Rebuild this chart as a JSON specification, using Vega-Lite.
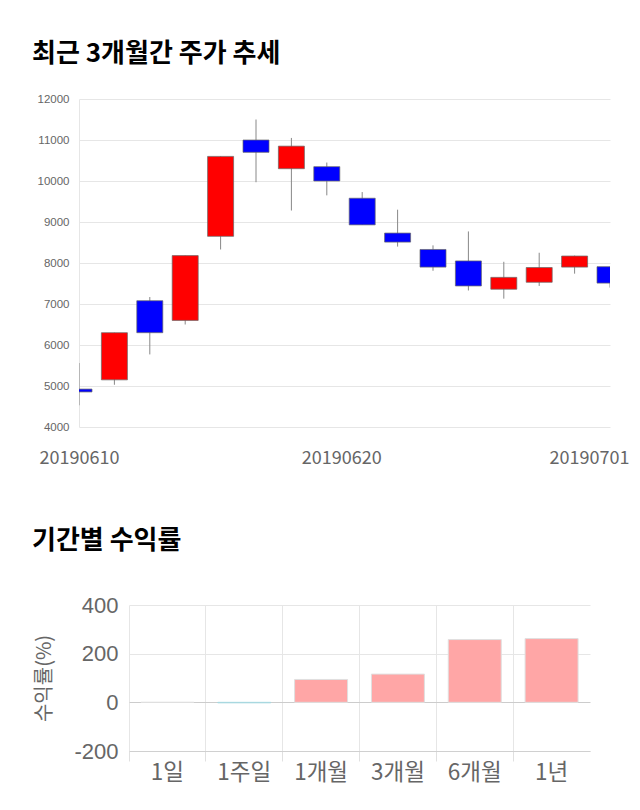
{
  "$schema": "https://vega.github.io/schema/vega-lite/v6.json",
  "background": "white",
  "padding": {"left": 32, "top": 41, "right": 0, "bottom": 0},
  "config": {"view": {"stroke": null}},
  "spacing": 61,
  "datasets": {
    "candles": [
      {"date": "20190610", "open": 4925, "high": 5560, "low": 4530, "close": 4855},
      {"date": "20190611", "open": 5150, "high": 6300, "low": 5030, "close": 6300},
      {"date": "20190612", "open": 7080, "high": 7170, "low": 5770, "close": 6300},
      {"date": "20190613", "open": 6600, "high": 8180, "low": 6500, "close": 8180},
      {"date": "20190614", "open": 8650, "high": 10600, "low": 8330, "close": 10600},
      {"date": "20190617", "open": 11000, "high": 11500, "low": 9970, "close": 10700},
      {"date": "20190618", "open": 10300, "high": 11050, "low": 9280, "close": 10850},
      {"date": "20190619", "open": 10350, "high": 10450, "low": 9650, "close": 10000},
      {"date": "20190620", "open": 9580, "high": 9730, "low": 8930, "close": 8930},
      {"date": "20190621", "open": 8730, "high": 9300, "low": 8400, "close": 8510},
      {"date": "20190624", "open": 8330, "high": 8430, "low": 7810, "close": 7900},
      {"date": "20190625", "open": 8050, "high": 8770, "low": 7330, "close": 7440},
      {"date": "20190626", "open": 7360, "high": 8030, "low": 7130, "close": 7650},
      {"date": "20190627", "open": 7530, "high": 8250, "low": 7440, "close": 7890},
      {"date": "20190628", "open": 7900, "high": 8180, "low": 7740, "close": 8170},
      {"date": "20190701", "open": 7910, "high": 7910, "low": 7400, "close": 7510}
    ],
    "returns": [
      {"period": "1일", "ret": 0},
      {"period": "1주일", "ret": -2},
      {"period": "1개월", "ret": 94},
      {"period": "3개월", "ret": 116},
      {"period": "6개월", "ret": 258},
      {"period": "1년", "ret": 262}
    ]
  },
  "vconcat": [
    {
      "width": 531,
      "height": 328,
      "data": {"name": "candles"},
      "title": {"text": "최근 3개월간 주가 추세", "anchor": "start", "frame": "group", "dx": -47, "font": "Noto Sans CJK KR", "fontSize": 26, "fontWeight": "bold", "color": "#000000", "offset": 26},
      "encoding": {
        "x": {
          "field": "date", "type": "ordinal",
          "scale": {"type": "point", "padding": 0},
          "axis": {
            "values": ["20190610", "20190620", "20190701"],
            "title": null, "domain": false, "ticks": false, "grid": false,
            "labelAngle": 0, "labelOverlap": false,
            "labelFont": "Noto Sans CJK KR", "labelFontSize": 18, "labelColor": "#666666",
            "labelPadding": 22,
            "labelOffset": {"condition": {"test": "datum.value !== '20190610'", "value": -21}, "value": 0}
          }
        }
      },
      "layer": [
        {
          "mark": {"type": "rule", "color": "#888888", "strokeWidth": 1, "clip": true},
          "encoding": {
            "y": {"field": "low", "type": "quantitative", "scale": {"domain": [4000, 12000]},
              "axis": {"values": [4000, 5000, 6000, 7000, 8000, 9000, 10000, 11000, 12000], "format": "d", "title": null, "ticks": false, "domain": true, "domainColor": "#e6e6e6", "gridColor": "#e6e6e6", "labelFont": "Liberation Sans", "labelFontSize": 11.5, "labelColor": "#666666", "labelPadding": 10}},
            "y2": {"field": "high"}
          }
        },
        {
          "mark": {"type": "bar", "size": 26, "clip": true, "stroke": "#666666", "strokeWidth": 1, "strokeOpacity": 0.7},
          "encoding": {
            "y": {"field": "open", "type": "quantitative"},
            "y2": {"field": "close"},
            "color": {"condition": {"test": "datum.close > datum.open", "value": "#ff0000"}, "value": "#0000ff"}
          }
        }
      ]
    },
    {
      "width": 511,
      "height": 146,
      "data": {"name": "returns"},
      "title": {"text": "기간별 수익률", "anchor": "start", "frame": "group", "dx": -47, "font": "Noto Sans CJK KR", "fontSize": 26, "fontWeight": "bold", "color": "#000000", "offset": 40},
      "mark": {"type": "bar", "size": 53, "strokeWidth": 1},
      "encoding": {
        "x": {
          "field": "period", "type": "nominal", "sort": null,
          "scale": {"type": "band", "paddingInner": 0, "paddingOuter": 0, "range": [50, 511]},
          "axis": {
            "title": null, "bandPosition": 0, "grid": true, "gridColor": "#e6e6e6",
            "ticks": true, "tickSize": 10, "tickColor": "#e0e0e0",
            "domain": true, "domainColor": "#d0d0d0",
            "labelAngle": 0, "labelPadding": 0,
            "labelFont": "Noto Sans CJK KR", "labelFontSize": 22.5, "labelColor": "#666666"
          }
        },
        "y": {
          "field": "ret", "type": "quantitative",
          "scale": {"domain": [-200, 400]},
          "axis": {
            "values": [-200, 0, 200, 400], "title": "수익률(%)", "labelExpr": "'' + datum.value",
            "offset": -50,
            "titleFont": "Noto Sans CJK KR", "titleFontSize": 20, "titleFontWeight": "normal", "titleColor": "#666666", "titlePadding": 19,
            "ticks": false, "domain": false,
            "gridColor": {"condition": {"test": "datum.value === 0", "value": "#cccccc"}, "value": "#e6e6e6"},
            "labelFont": "Liberation Sans", "labelFontSize": 22, "labelColor": "#666666", "labelPadding": 11
          }
        },
        "color": {"condition": {"test": "datum.ret < 0", "value": "#a8d8e0"}, "value": "#ffa6a6"},
        "stroke": {"condition": {"test": "datum.ret < 0", "value": "#a8d8e0"}, "value": "#e0e0e0"}
      }
    }
  ]
}
